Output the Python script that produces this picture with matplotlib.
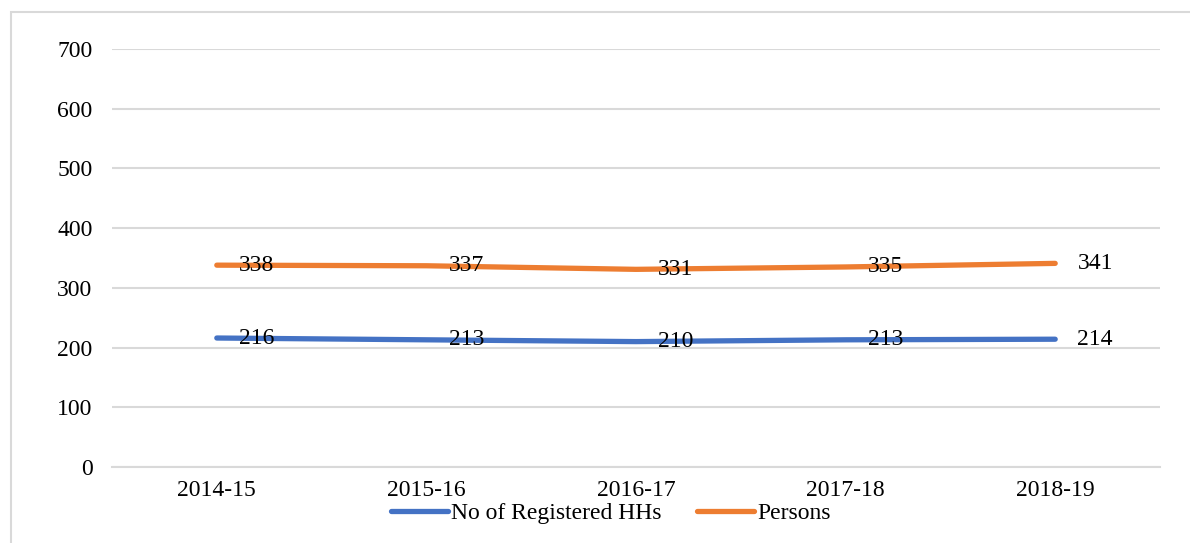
import matplotlib.pyplot as plt
from matplotlib.patches import Rectangle

years = ['2014-15', '2015-16', '2016-17', '2017-18', '2018-19']
households = [216, 213, 210, 213, 214]
persons = [338, 337, 331, 335, 341]

plt.rcParams['font.family'] = ['Liberation Serif', 'DejaVu Serif']

W, H = 1190, 543
fig = plt.figure(figsize=(W / 100, H / 100), dpi=100)
ax = fig.add_axes([112 / W, 1 - 467 / H, (1160 - 112) / W, (467 - 49) / H])

# outer chart border (runs off the right and bottom edges)
fig.patches.append(Rectangle((11 / W, -0.1), 1.1, 1 - 12 / H + 0.1,
                             transform=fig.transFigure, fill=False,
                             edgecolor='#d9d9d9', lw=1.5))

x = range(len(years))
blue, orange = '#4472C4', '#ED7D31'
ax.plot(x, households, color=blue, lw=3.8, solid_capstyle='round',
        label='No of Registered HHs')
ax.plot(x, persons, color=orange, lw=3.8, solid_capstyle='round',
        label='Persons')

for i in x:
    ax.annotate(str(households[i]), (i, households[i]), xytext=(16, 0),
                textcoords='offset points', va='center', ha='left', fontsize=17)
    ax.annotate(str(persons[i]), (i, persons[i]), xytext=(16, 0),
                textcoords='offset points', va='center', ha='left', fontsize=17)

ax.set_xlim(-0.5, len(years) - 0.5)
ax.set_ylim(0, 700)
ax.set_yticks(range(0, 701, 100))
ax.set_xticks(list(x))
ax.set_xticklabels(years)
ax.tick_params(axis='both', length=0, labelsize=17)
ax.tick_params(axis='y', pad=14)
ax.tick_params(axis='x', pad=9)
ax.grid(axis='y', color='#d9d9d9', lw=1.5)
ax.set_axisbelow(True)
for s in ['top', 'right', 'left']:
    ax.spines[s].set_visible(False)
ax.spines['bottom'].set_color('#d9d9d9')
ax.spines['bottom'].set_linewidth(1.5)

fig.legend(loc='center', bbox_to_anchor=(611 / W, 1 - 513 / H), ncol=2,
           frameon=False, fontsize=17, handlelength=2.4, handletextpad=0.15,
           columnspacing=1.5)

fig.savefig('out.png', dpi=100)
